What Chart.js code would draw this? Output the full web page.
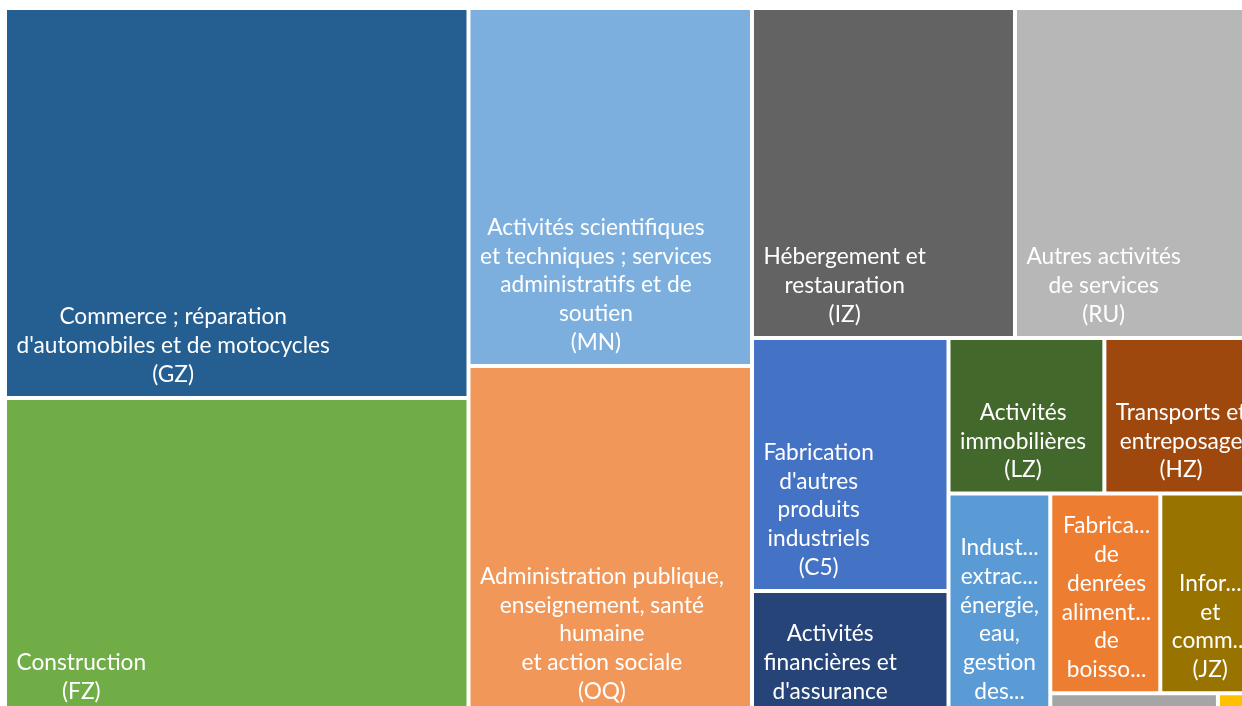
<!DOCTYPE html>
<html lang="fr">
<head>
<meta charset="utf-8">
<title>Treemap secteurs</title>
<script src="https://cdn.jsdelivr.net/npm/chart.js@4.4.1/dist/chart.umd.min.js"></script>
<style>
  html, body { margin: 0; padding: 0; background: #fff; overflow: hidden; }
  #wrap { position: absolute; left: 0; top: 0; width: 1262px; height: 720px; }
</style>
</head>
<body>
<div id="wrap"><canvas id="treemap"></canvas></div>
<script>
// secteurs (libellés avec retours à la ligne voulus) et codes NAF
const sectors = [
  "Commerce ; réparation\nd'automobiles et de motocycles",
  "Construction",
  "Activités scientifiques\net techniques ; services administratifs et de soutien",
  "Administration publique, enseignement, santé humaine\net action sociale",
  "Hébergement et restauration",
  "Autres activités\nde services",
  "Fabrication\nd'autres\nproduits\nindustriels",
  "Activités financières et d'assurance",
  "Activités immobilières",
  "Transports et entreposage",
  "Industries extractives, énergie, eau, gestion des déchets et dépollution",
  "Fabrication de denrées alimentaires, de boissons et de produits à base de tabac",
  "Information et communication",
  "Fabrication d'équipements électriques, électroniques, informatiques ; fabrication de machines",
  "Fabrication de matériels de transport"
];
const codes = ["GZ", "FZ", "MN", "OQ", "IZ", "RU", "C5", "KZ", "LZ", "HZ", "DE", "C1", "JZ", "C3", "C4"];
const values = [18077, 14693, 10149, 9894, 8679, 8019, 4972, 2437, 2424, 2389, 2255, 2198, 1952, 364, 87];
const colors = ["#255E91", "#70AD47", "#7CAFDD", "#F1975A", "#636363", "#B7B7B7", "#4472C4", "#264478",
                "#43682B", "#9E480E", "#5B9BD5", "#ED7D31", "#997300", "#A5A5A5", "#FFC000"];
// nombre de rectangles par bande, dans l'ordre de pose
const bands = [2, 2, 2, 2, 2, 1, 2, 1, 1];

const labels = sectors.map((s, i) => s + "\n(" + codes[i] + ")");

const FONT = '22.7px Lato';
const LINE_H = 28.8;

// bandes posées le long du petit côté du rectangle restant
function layoutTreemap(vals, groups, w, h) {
  const order = vals.map((v, i) => i).sort((a, b) => vals[b] - vals[a]);
  const total = vals.reduce((a, b) => a + b, 0);
  const k = (w * h) / total;
  let rect = { x: 0, y: 0, w: w, h: h };
  const cells = [];
  let pos = 0;
  for (const n of groups) {
    const idx = order.slice(pos, pos + n);
    pos += n;
    if (!idx.length) break;
    const sum = idx.reduce((a, i) => a + vals[i] * k, 0);
    if (rect.w >= rect.h) {
      const cw = sum / rect.h;
      let y = rect.y;
      idx.forEach(i => {
        const ch = vals[i] * k / cw;
        cells[i] = { x: rect.x, y: y, w: cw, h: ch };
        y += ch;
      });
      rect = { x: rect.x + cw, y: rect.y, w: rect.w - cw, h: rect.h };
    } else {
      const rh = sum / rect.w;
      let x = rect.x;
      idx.forEach(i => {
        const cw = vals[i] * k / rh;
        cells[i] = { x: x, y: rect.y, w: cw, h: rh };
        x += cw;
      });
      rect = { x: rect.x, y: rect.y + rh, w: rect.w, h: rect.h - rh };
    }
  }
  return cells;
}

class TreemapController extends Chart.DatasetController {
  update(mode) {
    const meta = this._cachedMeta;
    this.updateElements(meta.data, 0, meta.data.length, mode);
  }
  updateElements(rects, start, count, mode) {
    const meta = this._cachedMeta;
    const xScale = meta.xScale, yScale = meta.yScale;
    const ds = this.getDataset();
    const W = xScale.width, H = yScale.height;
    const cells = layoutTreemap(ds.data, ds.bands, W, H);
    for (let i = start; i < start + count; i++) {
      const c = cells[i];
      if (!c) continue;
      const left = xScale.getPixelForValue(c.x / W);
      const right = xScale.getPixelForValue((c.x + c.w) / W);
      const top = yScale.getPixelForValue(c.y / H);
      const bottom = yScale.getPixelForValue((c.y + c.h) / H);
      this.updateElement(rects[i], i, {
        x: (left + right) / 2,
        width: right - left,
        y: top,
        base: bottom,
        horizontal: false,
        borderSkipped: {},
        enableBorderRadius: false,
        inflateAmount: 0,
        options: this.resolveDataElementOptions(i, mode)
      }, mode);
    }
  }
}
TreemapController.id = 'treemap';
TreemapController.defaults = { datasetElementType: false, dataElementType: 'bar' };
TreemapController.overrides = {};
Chart.register(TreemapController);

function shorten(ctx, s, maxW) {
  let t = s.trim();
  while (t.length > 1 && ctx.measureText(t + '...').width > maxW) t = t.slice(0, -1);
  return t + '...';
}

function wrapText(ctx, text, maxW, maxLines) {
  const out = [];
  const paras = text.split('\n');
  for (let p = 0; p < paras.length; p++) {
    const words = paras[p].split(' ');
    let line = '';
    for (let k = 0; k < words.length; k++) {
      const word = words[k];
      if (ctx.measureText(word).width > maxW) {
        if (line) {
          out.push(line);
          if (out.length === maxLines) { out[out.length - 1] = shorten(ctx, line, maxW); return out; }
        }
        out.push(shorten(ctx, word, maxW));
        line = '';
        if (out.length === maxLines) return out;
        continue;
      }
      const test = line ? line + ' ' + word : word;
      if (ctx.measureText(test).width <= maxW) {
        line = test;
      } else {
        out.push(line);
        if (out.length === maxLines) { out[out.length - 1] = shorten(ctx, line, maxW); return out; }
        line = word;
      }
    }
    if (line) {
      out.push(line);
      if (out.length === maxLines) return out;
    }
  }
  return out;
}

const cellLabels = {
  id: 'cellLabels',
  afterDatasetsDraw(chart) {
    const ctx = chart.ctx;
    const meta = chart.getDatasetMeta(0);
    const bw = 2;
    ctx.save();
    ctx.font = FONT;
    ctx.fillStyle = '#ffffff';
    ctx.textAlign = 'center';
    ctx.textBaseline = 'middle';
    meta.data.forEach((el, i) => {
      const p = el.getProps(['x', 'y', 'base', 'width'], true);
      const left = p.x - p.width / 2 + bw;
      const right = p.x + p.width / 2 - bw;
      const top = Math.min(p.y, p.base) + bw;
      const bottom = Math.max(p.y, p.base) - bw;
      const maxLines = Math.floor((bottom - top - 18) / LINE_H);
      if (maxLines < 1) return;
      const lines = wrapText(ctx, chart.data.labels[i], right - left - 16, maxLines);
      const blockW = Math.max(...lines.map(l => ctx.measureText(l).width));
      const cx = left + 9.5 + blockW / 2;
      ctx.save();
      ctx.beginPath();
      ctx.rect(left, top, right - left, bottom - top);
      ctx.clip();
      lines.forEach((l, k) => {
        ctx.fillText(l, cx, bottom - 7 - LINE_H / 2 - (lines.length - 1 - k) * LINE_H);
      });
      ctx.restore();
    });
    ctx.restore();
  }
};

new Chart(document.getElementById('treemap'), {
  type: 'treemap',
  data: {
    labels: labels,
    datasets: [{
      label: 'Secteurs',
      data: values,
      bands: bands,
      backgroundColor: colors,
      borderColor: '#ffffff',
      borderWidth: 2,
      borderSkipped: false,
      inflateAmount: 0
    }]
  },
  options: {
    responsive: true,
    maintainAspectRatio: false,
    animation: false,
    events: [],
    layout: { padding: { left: 5, top: 8, right: 4, bottom: 5 } },
    scales: {
      x: { type: 'linear', min: 0, max: 1, display: false },
      y: { type: 'linear', min: 0, max: 1, reverse: true, display: false }
    },
    plugins: {
      legend: { display: false },
      tooltip: { enabled: false }
    }
  },
  plugins: [cellLabels]
});
</script>
</body>
</html>
